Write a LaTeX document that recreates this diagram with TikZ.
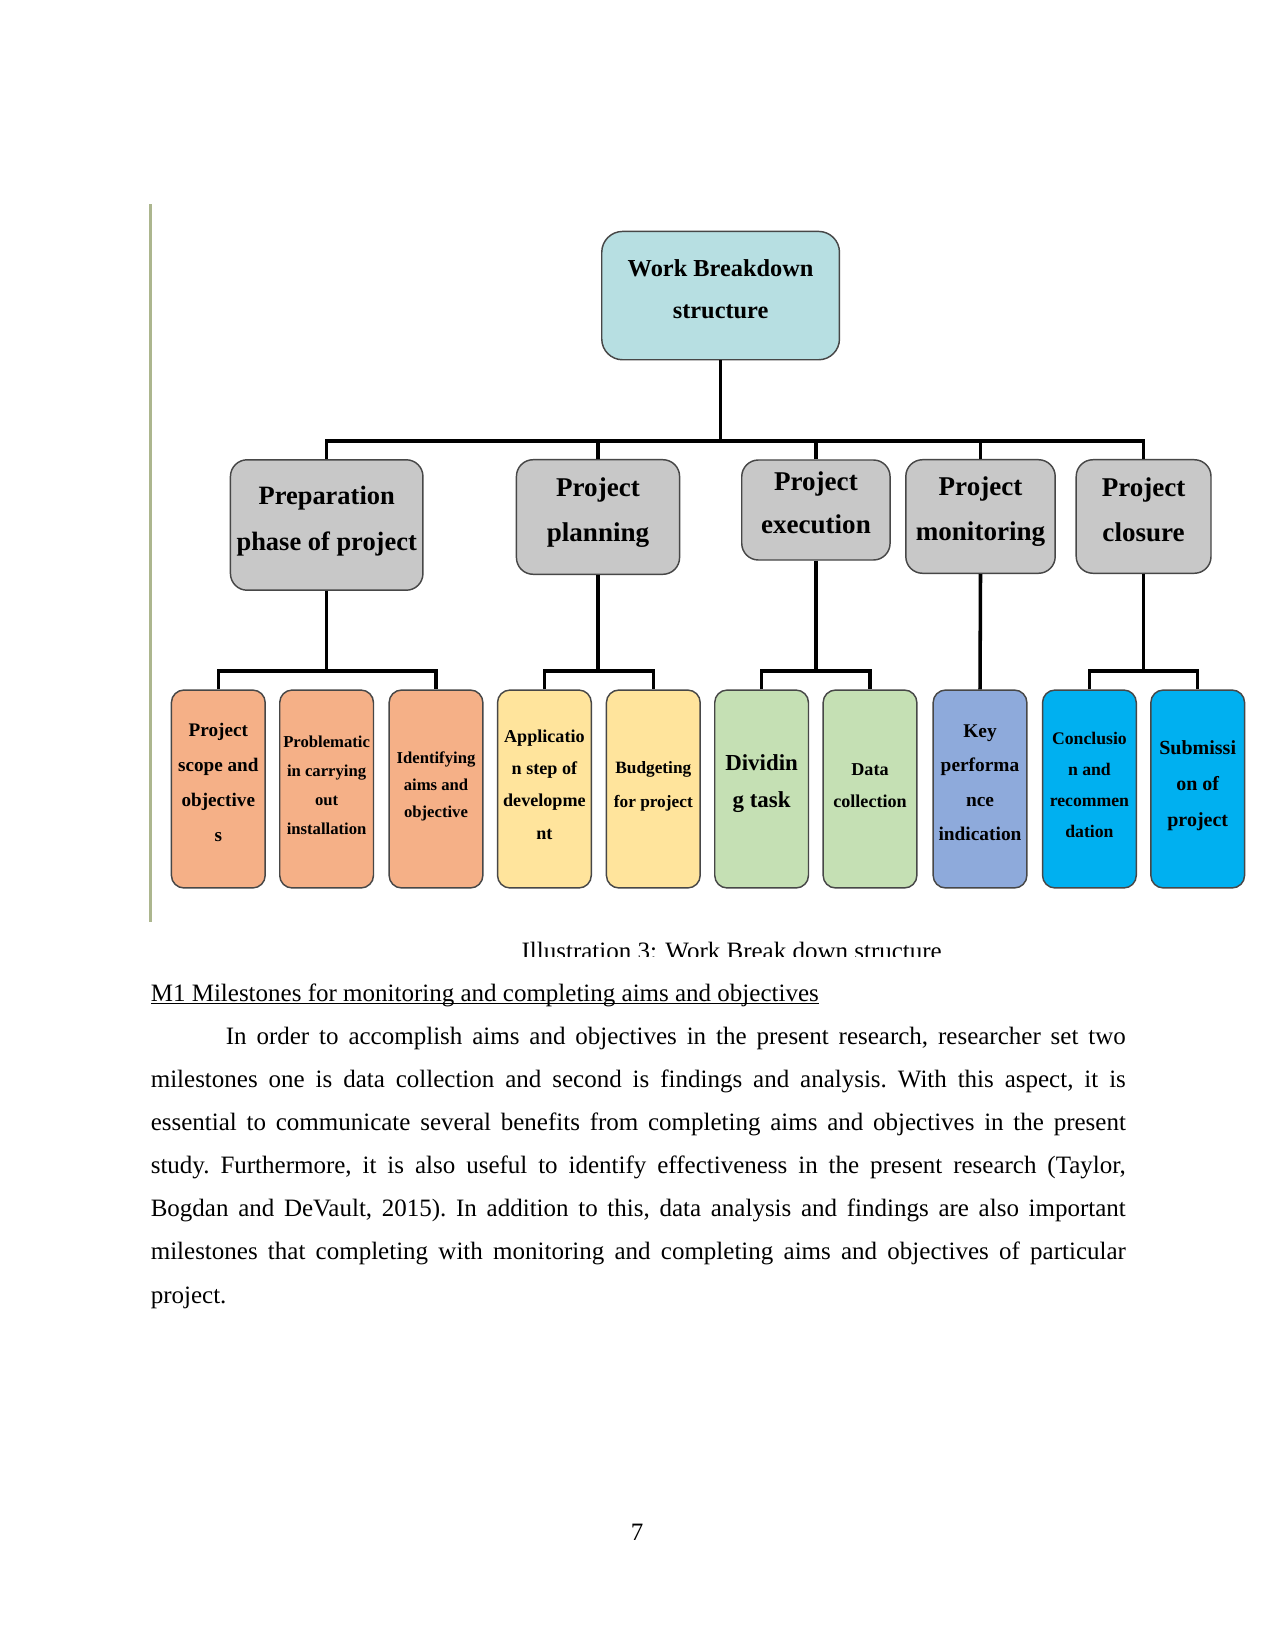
\documentclass[tikz,border=0pt]{standalone}
\usepackage{fontspec}
\setmainfont{Liberation Serif}
\definecolor{topc}{RGB}{183,223,226}
\definecolor{midc}{RGB}{200,200,200}
\definecolor{orc}{RGB}{245,176,135}
\definecolor{yec}{RGB}{255,228,156}
\definecolor{grc}{RGB}{197,224,180}
\definecolor{blc}{RGB}{142,170,219}
\definecolor{cyc}{RGB}{0,176,240}
\definecolor{rulec}{RGB}{172,182,142}
\newcommand\myul[1]{\setbox0\hbox{#1}\rlap{\rule[-1.3pt]{\wd0}{0.55pt}}\box0}
\tikzset{
  wire/.style={line width=1.7pt, black, line join=miter},
  boxbase/.style={draw=black!72, line width=0.7pt, align=center, inner sep=1pt},
  topbox/.style={boxbase, rounded corners=10pt, fill=topc, minimum width=114.1pt, minimum height=61.6pt,
     font=\fontsize{11.7}{20}\selectfont\bfseries},
  midbox/.style={boxbase, rounded corners=8pt, fill=midc},
  leaf/.style={boxbase, rounded corners=6pt, minimum width=45pt, minimum height=95pt},
}
\begin{document}
\begin{tikzpicture}[x=0.48pt,y=-0.48pt]
\useasboundingbox[fill=white] (0,0) rectangle (1275,1650);

% left rule of the frame
\draw[rulec, line width=1pt] (150.5,204.5) -- (150.5,922);

% top
\node[topbox, text depth=6pt] (top) at (720.6,295.6) {Work Breakdown\\structure};

% level 2
\node[midbox, minimum width=92.4pt, minimum height=62.6pt, text depth=6.8pt, font=\fontsize{12.7}{22}\selectfont\bfseries]
  (prep) at (326.7,525) {Preparation\\phase of project};
\node[midbox, minimum width=78.3pt, minimum height=55pt, text depth=6.8pt, font=\fontsize{13}{21.6}\selectfont\bfseries]
  (plan) at (598,517) {Project\\planning};
\node[midbox, minimum width=71.2pt, minimum height=48pt, text depth=7pt, font=\fontsize{13}{20.4}\selectfont\bfseries]
  (exec) at (815.9,510) {Project\\execution};
\node[midbox, minimum width=71.7pt, minimum height=54.5pt, text depth=7.8pt, font=\fontsize{13}{21.6}\selectfont\bfseries]
  (mon) at (980.5,516.5) {Project\\monitoring};
\node[midbox, minimum width=64.7pt, minimum height=54.5pt, text depth=7pt, font=\fontsize{13}{21.6}\selectfont\bfseries]
  (clo) at (1143.6,516.5) {Project\\closure};

% level 3
\node[leaf, fill=orc, text depth=6pt, font=\fontsize{9.2}{16.8}\selectfont\bfseries] (a1) at (218.3,789) {Project\\scope and\\objective\\s};
\node[leaf, fill=orc, text depth=3.6pt, font=\fontsize{8}{13.8}\selectfont\bfseries] (a2) at (326.6,789) {Problematic\\in carrying\\out\\installation};
\node[leaf, fill=orc, text depth=4.3pt, font=\fontsize{8}{13}\selectfont\bfseries] (a3) at (436,789) {Identifying\\aims and\\objective};
\node[leaf, fill=yec, text depth=4.2pt, font=\fontsize{8.7}{15.4}\selectfont\bfseries] (b1) at (544.4,789) {Applicatio\\n step of\\developme\\nt};
\node[leaf, fill=yec, text depth=4.4pt, font=\fontsize{8.3}{16}\selectfont\bfseries] (b2) at (653.3,789) {Budgeting\\for project};
\node[leaf, fill=grc, text depth=7.6pt, font=\fontsize{11}{18}\selectfont\bfseries] (c1) at (761.6,789) {Dividin\\g task};
\node[leaf, fill=grc, text depth=3.2pt, font=\fontsize{8.7}{15.3}\selectfont\bfseries] (c2) at (870,789) {Data\\collection};
\node[leaf, fill=blc, text depth=6pt, font=\fontsize{9.3}{16.5}\selectfont\bfseries] (d1) at (980,789) {Key\\performa\\nce\\indication};
\node[leaf, fill=cyc, text depth=4pt, font=\fontsize{8.5}{15}\selectfont\bfseries] (e1) at (1089.4,789) {Conclusio\\n and\\recommen\\dation};
\node[leaf, fill=cyc, text depth=5.1pt, font=\fontsize{9.6}{17.3}\selectfont\bfseries] (e2) at (1197.7,789) {Submissi\\on of\\project};

% connectors
\coordinate (busy) at (0,440.8);
\coordinate (suby) at (0,671.2);
\draw[wire] (top.south) -- (top.south |- busy);
\draw[wire] (prep.north) |- (clo.north |- busy) -- (clo.north);
\draw[wire] (plan.north) -- (plan.north |- busy);
\draw[wire] (exec.north) -- (exec.north |- busy);
\draw[wire] (mon.north) -- (mon.north |- busy);

\draw[wire] (prep.south) -- (prep.south |- suby);
\draw[wire] (a1.north) |- (a3.north |- suby) -- (a3.north);
\draw[wire] (plan.south) -- (plan.south |- suby);
\draw[wire] (b1.north) |- (b2.north |- suby) -- (b2.north);
\draw[wire] (exec.south) -- (exec.south |- suby);
\draw[wire] (c1.north) |- (c2.north |- suby) -- (c2.north);
\draw[wire] (mon.south) -- (d1.north);
\draw[wire] (clo.south) -- (clo.south |- suby);
\draw[wire] (e1.north) |- (e2.north |- suby) -- (e2.north);

% clipped caption
\begin{scope}
\clip (400,930) rectangle (1100,956);
\node[anchor=base, inner sep=0, font=\fontsize{12}{14}\selectfont] (caption) at (731.7,959) {Illustration 3: Work Break down structure};
\end{scope}

% body text
\node[anchor=base west, inner sep=0] (para) at (150.4,1001.7) {\parbox[t]{468pt}{\fontsize{12}{20.66}\selectfont
\frenchspacing\hyphenpenalty=10000\parindent=36pt\parfillskip=0pt plus 1fil
\noindent\myul{M1 Milestones for monitoring and completing aims and objectives}\par
In order to accomplish aims and objectives in the present research, researcher set two\linebreak
milestones one is data collection and second is findings and analysis. With this aspect, it is\linebreak
essential to communicate several benefits from completing aims and objectives in the present\linebreak
study. Furthermore, it is also useful to identify effectiveness in the present research (Taylor,\linebreak
Bogdan and DeVault, 2015). In addition to this, data analysis and findings are also important\linebreak
milestones that completing with monitoring and completing aims and objectives of particular\linebreak
project.\par}};

% page number
\node[anchor=base, inner sep=0, font=\fontsize{12}{14}\selectfont] (pnum) at (637.2,1540) {7};
\end{tikzpicture}
\end{document}
